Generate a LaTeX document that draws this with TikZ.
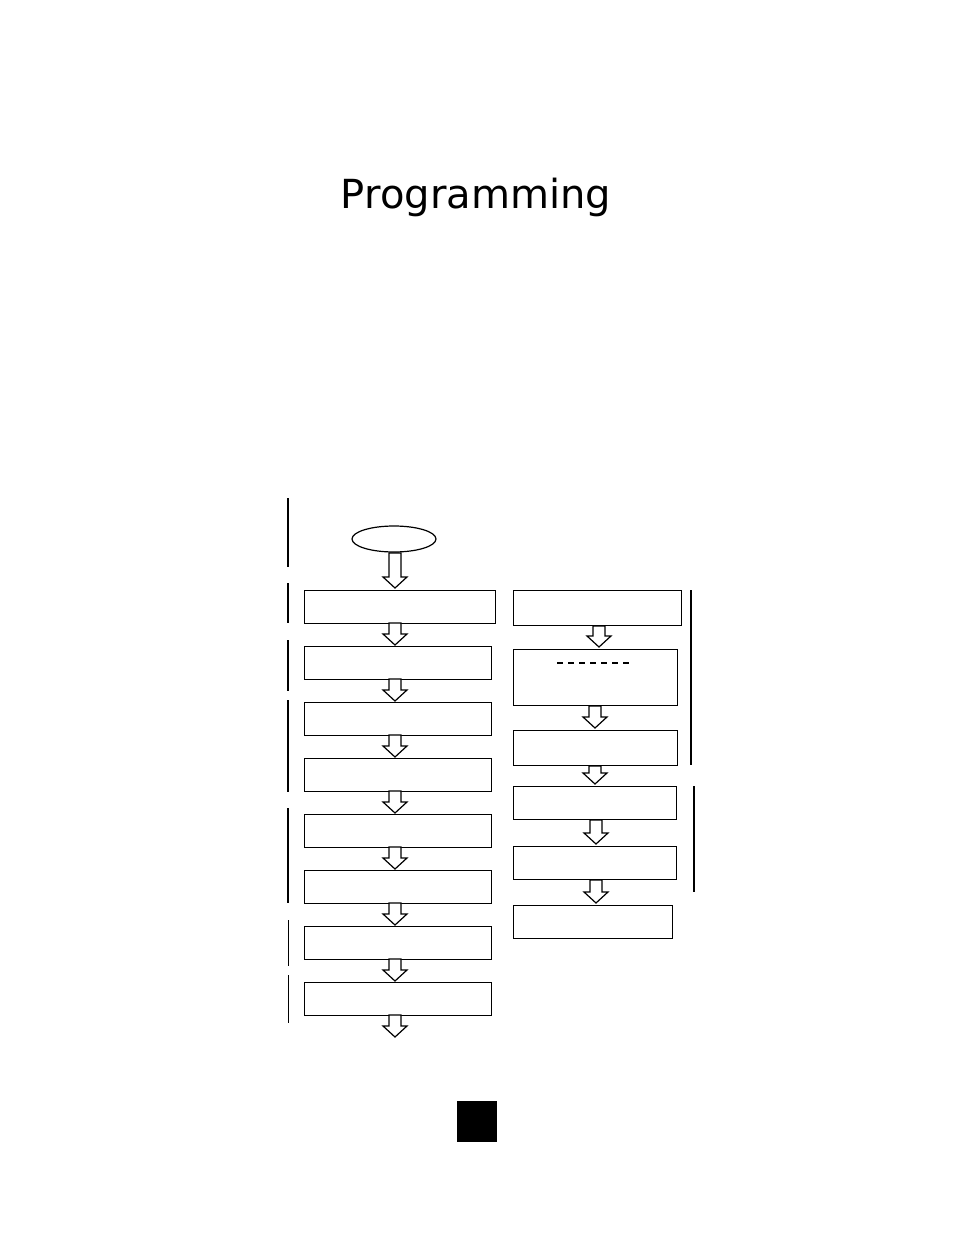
\documentclass[tikz,border=0pt]{standalone}
\usepackage{fontspec}
\usetikzlibrary{shapes.geometric}
\setmainfont{DejaVu Sans}
\newcommand\blockarr[3]{% x, ytop, ybot
  \draw[line width=1.2pt,fill=white] (#1-6,#2) -- (#1+6,#2) -- (#1+6,#3-11) -- (#1+12,#3-11) -- (#1,#3) -- (#1-12,#3-11) -- (#1-6,#3-11) -- cycle;}
\begin{document}
\begin{tikzpicture}[x=1pt,y=-1pt,
  bx/.style={draw,line width=1.2pt,inner sep=0pt,anchor=north west},
  side/.style={line width=1.5pt}]
\useasboundingbox (0,0) rectangle (954,1235);
\node[font=\fontsize{38}{40}\selectfont] (title) at (476,197) {\resizebox{270pt}{!}{Programming}};
\node[draw,line width=1.2pt,ellipse,minimum width=84pt,minimum height=26pt,inner sep=0pt] (start) at (394,539) {};
\foreach \n/\x/\y/\w/\h in {L1/304/590/191/33,L2/304/646/187/33,L3/304/702/187/33,L4/304/758/187/33,L5/304/814/187/33,L6/304/870/187/33,L7/304/926/187/33,L8/304/982/187/33,
  R1/513/590/168/35,R2/513/649/164/56,R3/513/730/164/35,R4/513/786/163/33,R5/513/846/163/33,R6/513/905/159/33}
  \node[bx,minimum width=\w pt,minimum height=\h pt] (\n) at (\x,\y) {};
\draw[line width=1.2pt,dash pattern=on 6pt off 5pt] (557,663) -- (630,663);
\blockarr{395}{553}{588}
\foreach \y in {623,679,735,791,847,903,959,1015} {\blockarr{395}{\y}{\y+22}}
\blockarr{599}{626}{647}
\blockarr{595}{706}{728}
\blockarr{595}{766}{784}
\blockarr{596}{820}{844}
\blockarr{596}{880}{903}
\draw[side] (288,498) -- (288,567);
\draw[side] (288,583) -- (288,623);
\draw[side] (288,640) -- (288,691);
\draw[side] (288,700) -- (288,792);
\draw[side] (288,808) -- (288,903);
\draw[line width=0.8pt] (288,920) -- (288,966);
\draw[line width=0.8pt] (288,975) -- (288,1023);
\draw[side] (691,590) -- (691,765);
\draw[side] (694,786) -- (694,892);
\fill (457,1101) rectangle (497,1142);
\end{tikzpicture}
\end{document}
